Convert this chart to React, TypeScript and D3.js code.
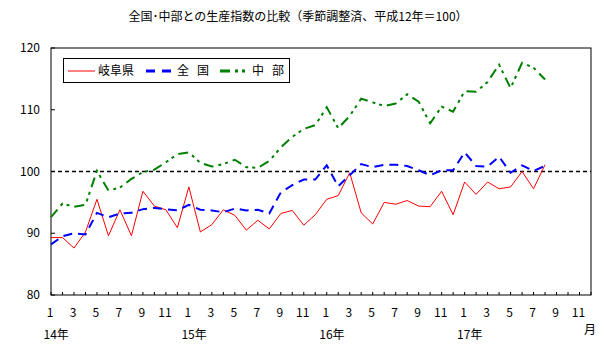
import React from "react";
import * as d3 from "d3";

const monthLabels = ["1","","3","","5","","7","","9","","11",""];
const yearLabels = ["14年", "15年", "16年", "17年"];
const yTicks = [80, 90, 100, 110, 120];

const gifu = [89.3,89.3,87.6,90.2,95.5,89.6,93.8,89.6,96.8,94.4,93.8,90.9,
  97.5,90.2,91.4,93.8,92.9,90.5,92.1,90.7,93.2,93.7,91.3,93.0,
  95.5,96.1,99.8,93.3,91.5,95.0,94.7,95.3,94.4,94.3,96.8,93.0,
  98.3,96.3,98.3,97.2,97.5,100.0,97.2,101.1];
const zenkoku = [88.2,89.5,90.0,89.8,93.3,92.6,93.2,93.3,93.9,94.1,93.9,93.7,
  94.6,93.8,93.7,93.4,94.0,93.7,93.8,93.2,96.6,97.8,98.7,98.7,
  101.0,97.6,99.4,101.2,100.7,101.1,101.1,100.9,100.2,99.4,100.2,100.2,
  103.1,100.9,100.8,102.4,99.8,101.0,100.1,100.9];
const chubu = [92.6,94.8,94.3,94.6,100.1,96.9,97.4,98.8,99.9,100.3,101.5,102.8,
  103.1,101.4,100.8,101.2,101.9,100.7,100.6,101.7,103.9,105.6,106.9,107.5,
  110.4,107.0,109.0,111.8,111.2,110.6,111.0,112.5,111.3,107.8,110.5,109.7,
  113.0,112.9,114.5,117.3,113.5,117.6,116.8,114.9];

const seriesNames = ["岐阜県", "全　国", "中　部"];

const FONT = "'Noto Sans CJK JP', sans-serif";

export default function App() {
  const W = 604, H = 352;
  const x = d3.scaleLinear().domain([0, 47]).range([51, 591]);
  const y = d3.scaleLinear().domain([80, 120]).range([295, 48]);
  const line = d3.line<number>().x((_, i) => x(i)).y((d) => y(d));
  const months = d3.range(48);

  return (
    <svg width={W} height={H} style={{ position: "absolute", left: 0, top: 0, background: "#fff" }}
      fontFamily={FONT}>
      <rect x={0} y={0} width={W} height={H} fill="#fff" />
      <text x={298} y={21} fontSize={12} textAnchor="middle" fill="#000">
        全国･中部との生産指数の比較（季節調整済、平成12年＝100）
      </text>

      {/* plot frame */}
      <rect x={x(0)} y={y(120)} width={x(47) - x(0)} height={y(80) - y(120)} fill="none" stroke="#000" strokeWidth={1} />

      {/* y ticks and labels */}
      {yTicks.map((t) => (
        <g key={t}>
          <line x1={x(0)} x2={x(0) + 4} y1={y(t)} y2={y(t)} stroke="#000" />
          <text x={40} y={y(t)} dy="0.35em" fontSize={12} textAnchor="end">{t}</text>
        </g>
      ))}

      {/* x ticks */}
      {months.map((m) => (
        <line key={m} x1={x(m)} x2={x(m)} y1={y(80)} y2={y(80) - 3} stroke="#000" />
      ))}
      {months.map((m) => {
        const lab = monthLabels[m % 12];
        return lab ? (
          <text key={"l" + m} x={x(m) - 1} y={317} fontSize={12} textAnchor="middle">{lab}</text>
        ) : null;
      })}
      {yearLabels.map((yl, k) => (
        <text key={yl} x={x(k * 12 + 0.45)} y={339} fontSize={12} textAnchor="middle">{yl}</text>
      ))}
      <text x={590} y={334} fontSize={12} textAnchor="middle">月</text>

      {/* reference line at 100 */}
      <line x1={x(0)} x2={x(47)} y1={y(100)} y2={y(100)} stroke="#000" strokeWidth={1.5} strokeDasharray="4,3" />

      {/* series */}
      <path d={line(gifu) || ""} fill="none" stroke="#ff0000" strokeWidth={1} />
      <path d={line(zenkoku) || ""} fill="none" stroke="#0000ff" strokeWidth={2} strokeDasharray="9,6" />
      <path d={line(chubu) || ""} fill="none" stroke="#008000" strokeWidth={2} strokeDasharray="10,5,3,4,3,5" />

      {/* legend */}
      <rect x={63.5} y={58.5} width={226} height={24} fill="#fff" stroke="#000" strokeWidth={1} />
      <line x1={68} x2={95} y1={71} y2={71} stroke="#ff0000" strokeWidth={1} />
      <text x={98} y={71} dy="0.35em" fontSize={12}>{seriesNames[0]}</text>
      <line x1={146} x2={171} y1={71} y2={71} stroke="#0000ff" strokeWidth={3} strokeDasharray="9,7" />
      <text x={177} y={71} dy="0.35em" fontSize={12} textLength={32} lengthAdjust="spacing">{seriesNames[1]}</text>
      <line x1={220} x2={246} y1={71} y2={71} stroke="#008000" strokeWidth={3} strokeDasharray="10,5,3,4,3,5" />
      <text x={252} y={71} dy="0.35em" fontSize={12} textLength={32} lengthAdjust="spacing">{seriesNames[2]}</text>
    </svg>
  );
}
